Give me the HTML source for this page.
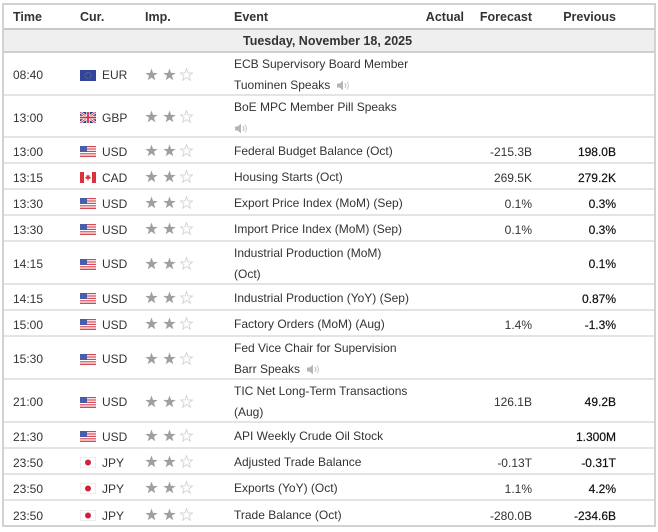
<!DOCTYPE html>
<html><head><meta charset="utf-8">
<style>
*{margin:0;padding:0;box-sizing:border-box}
html,body{width:658px;height:532px;background:#fff;overflow:hidden}
body{position:relative;font-family:"Liberation Sans",Arial,sans-serif;font-size:12px;color:#333}
.r{position:absolute;left:2px;width:654px;border-bottom:2px solid #e4e4e4}
.c{position:absolute;top:2px;bottom:-1px;display:flex;align-items:center;white-space:nowrap}
.t{left:11px}
.f{left:78px}
.cu{left:100px}
.s{left:143px;top:1px;bottom:0}
.e{left:232px;line-height:21px}
.a{right:192px}
.fc{right:124px;justify-content:flex-end}
.p{right:40px;justify-content:flex-end;color:#111;-webkit-text-stroke:0.2px #111}
.hd{font-weight:bold;color:#333;font-size:12.5px}
.star{display:inline-block;width:13px;height:13px;margin-right:4.5px}
.spk{display:inline-block;vertical-align:middle;margin-left:6px}
.outer{position:absolute;left:2px;top:3px;width:654px;height:524px;border:2px solid #d2d2d2}
</style></head><body>

<svg width="0" height="0" style="position:absolute">
<defs>
<symbol id="sf" viewBox="0 0 13 13"><polygon points="6.5,0.5 8.03,4.9 12.68,4.99 8.97,7.8 10.32,12.26 6.5,9.6 2.68,12.26 4.03,7.8 0.32,4.99 4.97,4.9" fill="#9f9f9f"/></symbol>
<symbol id="se" viewBox="0 0 13 13"><polygon points="6.5,0.5 8.03,4.9 12.68,4.99 8.97,7.8 10.32,12.26 6.5,9.6 2.68,12.26 4.03,7.8 0.32,4.99 4.97,4.9" fill="#fff" stroke="#d4d4d4" stroke-width="0.9"/></symbol>
<symbol id="sp" viewBox="0 0 14 11"><path d="M1 3.5h2.5L7 0.8v9.4L3.5 7.5H1z" fill="#b5b5b5"/><path d="M9 3.2q1.5 2.3 0 4.6" stroke="#c2c2c2" stroke-width="1.2" fill="none"/><path d="M11 1.6q2.8 3.9 0 7.8" stroke="#d0d0d0" stroke-width="1.2" fill="none"/></symbol>
<symbol id="eu" viewBox="0 0 16 11"><rect width="16" height="11" fill="#33459a"/><circle cx="8" cy="5.5" r="3" fill="none" stroke="#8a8a6a" stroke-width="0.8" stroke-dasharray="0.8 0.8"/></symbol>
<symbol id="gb" viewBox="0 0 16 11"><rect width="16" height="11" fill="#263f8c"/><path d="M0 0L16 11M16 0L0 11" stroke="#fff" stroke-width="2.4"/><path d="M0 0L16 11M16 0L0 11" stroke="#d43040" stroke-width="0.9"/><path d="M8 0V11M0 5.5H16" stroke="#fff" stroke-width="3.4"/><path d="M8 0V11M0 5.5H16" stroke="#d43040" stroke-width="1.8"/></symbol>
<symbol id="us" viewBox="0 0 16 11"><rect width="16" height="11" fill="#fff"/><g fill="#d24a55"><rect y="0" width="16" height="1.2"/><rect y="2.4" width="16" height="1.2"/><rect y="4.8" width="16" height="1.2"/><rect y="7.2" width="16" height="1.2"/><rect y="9.6" width="16" height="1.4"/></g><rect width="7" height="6" fill="#4a5da8"/></symbol>
<symbol id="ca" viewBox="0 0 16 11"><rect width="16" height="11" fill="#fff"/><rect width="4" height="11" fill="#d8323c"/><rect x="12" width="4" height="11" fill="#d8323c"/><path d="M8 2.2l0.8 1.6 1-0.4-0.3 2 1.1-0.6 0.3 0.8-1.4 1.4h-1v1.6h-1V7h-1L5.1 5.6l0.3-0.8 1.1 0.6-0.3-2 1 0.4z" fill="#d8323c"/></symbol>
<symbol id="jp" viewBox="0 0 16 11"><rect x="0.25" y="0.25" width="15.5" height="10.5" fill="#fff" stroke="#ddd" stroke-width="0.5"/><circle cx="8" cy="5.5" r="3" fill="#d0213a"/></symbol>
</defs></svg>

<!-- header -->
<div class="r hd" style="top:3px;height:27px;border-bottom:2px solid #c9c9c9">
  <div class="c t">Time</div>
  <div class="c" style="left:78px">Cur.</div>
  <div class="c" style="left:143px">Imp.</div>
  <div class="c e">Event</div>
  <div class="c a">Actual</div>
  <div class="c" style="right:124px">Forecast</div>
  <div class="c" style="right:40px">Previous</div>
</div>
<!-- date -->
<div class="r hd" style="top:30px;height:23px;background:#efefef;border-bottom:2px solid #cfcfcf">
  <div class="c" style="left:241px;top:1px;bottom:0">Tuesday, November 18, 2025</div>
</div>

<!-- rows -->
<div class="r" style="top:53px;height:43px">
  <div class="c t">08:40</div>
  <div class="c f"><svg width="16" height="11"><use href="#eu"/></svg></div>
  <div class="c cu">EUR</div>
  <div class="c s"><svg class="star"><use href="#sf"/></svg><svg class="star"><use href="#sf"/></svg><svg class="star"><use href="#se"/></svg></div>
  <div class="c e"><div>ECB Supervisory Board Member<br>Tuominen Speaks<svg class="spk" width="14" height="11"><use href="#sp"/></svg></div></div>
</div>

<div class="r" style="top:96px;height:42px">
  <div class="c t">13:00</div>
  <div class="c f"><svg width="16" height="11"><use href="#gb"/></svg></div>
  <div class="c cu">GBP</div>
  <div class="c s"><svg class="star"><use href="#sf"/></svg><svg class="star"><use href="#sf"/></svg><svg class="star"><use href="#se"/></svg></div>
  <div class="c e"><div>BoE MPC Member Pill Speaks<br><svg class="spk" style="margin-left:0" width="14" height="11"><use href="#sp"/></svg></div></div>
</div>

<div class="r" style="top:138px;height:26px">
  <div class="c t">13:00</div>
  <div class="c f"><svg width="16" height="11"><use href="#us"/></svg></div>
  <div class="c cu">USD</div>
  <div class="c s"><svg class="star"><use href="#sf"/></svg><svg class="star"><use href="#sf"/></svg><svg class="star"><use href="#se"/></svg></div>
  <div class="c e">Federal Budget Balance (Oct)</div>
  <div class="c fc">-215.3B</div>
  <div class="c p">198.0B</div>
</div>

<div class="r" style="top:164px;height:26px">
  <div class="c t">13:15</div>
  <div class="c f"><svg width="16" height="11"><use href="#ca"/></svg></div>
  <div class="c cu">CAD</div>
  <div class="c s"><svg class="star"><use href="#sf"/></svg><svg class="star"><use href="#sf"/></svg><svg class="star"><use href="#se"/></svg></div>
  <div class="c e">Housing Starts (Oct)</div>
  <div class="c fc">269.5K</div>
  <div class="c p">279.2K</div>
</div>

<div class="r" style="top:190px;height:26px">
  <div class="c t">13:30</div>
  <div class="c f"><svg width="16" height="11"><use href="#us"/></svg></div>
  <div class="c cu">USD</div>
  <div class="c s"><svg class="star"><use href="#sf"/></svg><svg class="star"><use href="#sf"/></svg><svg class="star"><use href="#se"/></svg></div>
  <div class="c e">Export Price Index (MoM) (Sep)</div>
  <div class="c fc">0.1%</div>
  <div class="c p">0.3%</div>
</div>

<div class="r" style="top:216px;height:26px">
  <div class="c t">13:30</div>
  <div class="c f"><svg width="16" height="11"><use href="#us"/></svg></div>
  <div class="c cu">USD</div>
  <div class="c s"><svg class="star"><use href="#sf"/></svg><svg class="star"><use href="#sf"/></svg><svg class="star"><use href="#se"/></svg></div>
  <div class="c e">Import Price Index (MoM) (Sep)</div>
  <div class="c fc">0.1%</div>
  <div class="c p">0.3%</div>
</div>

<div class="r" style="top:242px;height:43px">
  <div class="c t">14:15</div>
  <div class="c f"><svg width="16" height="11"><use href="#us"/></svg></div>
  <div class="c cu">USD</div>
  <div class="c s"><svg class="star"><use href="#sf"/></svg><svg class="star"><use href="#sf"/></svg><svg class="star"><use href="#se"/></svg></div>
  <div class="c e"><div>Industrial Production (MoM)<br>(Oct)</div></div>
  <div class="c p">0.1%</div>
</div>

<div class="r" style="top:285px;height:26px">
  <div class="c t">14:15</div>
  <div class="c f"><svg width="16" height="11"><use href="#us"/></svg></div>
  <div class="c cu">USD</div>
  <div class="c s"><svg class="star"><use href="#sf"/></svg><svg class="star"><use href="#sf"/></svg><svg class="star"><use href="#se"/></svg></div>
  <div class="c e">Industrial Production (YoY) (Sep)</div>
  <div class="c p">0.87%</div>
</div>

<div class="r" style="top:311px;height:26px">
  <div class="c t">15:00</div>
  <div class="c f"><svg width="16" height="11"><use href="#us"/></svg></div>
  <div class="c cu">USD</div>
  <div class="c s"><svg class="star"><use href="#sf"/></svg><svg class="star"><use href="#sf"/></svg><svg class="star"><use href="#se"/></svg></div>
  <div class="c e">Factory Orders (MoM) (Aug)</div>
  <div class="c fc">1.4%</div>
  <div class="c p">-1.3%</div>
</div>

<div class="r" style="top:337px;height:43px">
  <div class="c t">15:30</div>
  <div class="c f"><svg width="16" height="11"><use href="#us"/></svg></div>
  <div class="c cu">USD</div>
  <div class="c s"><svg class="star"><use href="#sf"/></svg><svg class="star"><use href="#sf"/></svg><svg class="star"><use href="#se"/></svg></div>
  <div class="c e"><div>Fed Vice Chair for Supervision<br>Barr Speaks<svg class="spk" width="14" height="11"><use href="#sp"/></svg></div></div>
</div>

<div class="r" style="top:380px;height:43px">
  <div class="c t">21:00</div>
  <div class="c f"><svg width="16" height="11"><use href="#us"/></svg></div>
  <div class="c cu">USD</div>
  <div class="c s"><svg class="star"><use href="#sf"/></svg><svg class="star"><use href="#sf"/></svg><svg class="star"><use href="#se"/></svg></div>
  <div class="c e"><div>TIC Net Long-Term Transactions<br>(Aug)</div></div>
  <div class="c fc">126.1B</div>
  <div class="c p">49.2B</div>
</div>

<div class="r" style="top:423px;height:26px">
  <div class="c t">21:30</div>
  <div class="c f"><svg width="16" height="11"><use href="#us"/></svg></div>
  <div class="c cu">USD</div>
  <div class="c s"><svg class="star"><use href="#sf"/></svg><svg class="star"><use href="#sf"/></svg><svg class="star"><use href="#se"/></svg></div>
  <div class="c e">API Weekly Crude Oil Stock</div>
  <div class="c p">1.300M</div>
</div>

<div class="r" style="top:449px;height:26px">
  <div class="c t">23:50</div>
  <div class="c f"><svg width="16" height="11"><use href="#jp"/></svg></div>
  <div class="c cu">JPY</div>
  <div class="c s"><svg class="star"><use href="#sf"/></svg><svg class="star"><use href="#sf"/></svg><svg class="star"><use href="#se"/></svg></div>
  <div class="c e">Adjusted Trade Balance</div>
  <div class="c fc">-0.13T</div>
  <div class="c p">-0.31T</div>
</div>

<div class="r" style="top:475px;height:26px">
  <div class="c t">23:50</div>
  <div class="c f"><svg width="16" height="11"><use href="#jp"/></svg></div>
  <div class="c cu">JPY</div>
  <div class="c s"><svg class="star"><use href="#sf"/></svg><svg class="star"><use href="#sf"/></svg><svg class="star"><use href="#se"/></svg></div>
  <div class="c e">Exports (YoY) (Oct)</div>
  <div class="c fc">1.1%</div>
  <div class="c p">4.2%</div>
</div>

<div class="r" style="top:501px;height:26px;border-bottom:none">
  <div class="c t">23:50</div>
  <div class="c f"><svg width="16" height="11"><use href="#jp"/></svg></div>
  <div class="c cu">JPY</div>
  <div class="c s"><svg class="star"><use href="#sf"/></svg><svg class="star"><use href="#sf"/></svg><svg class="star"><use href="#se"/></svg></div>
  <div class="c e">Trade Balance (Oct)</div>
  <div class="c fc">-280.0B</div>
  <div class="c p">-234.6B</div>
</div>

<div class="outer"></div>
</body></html>
